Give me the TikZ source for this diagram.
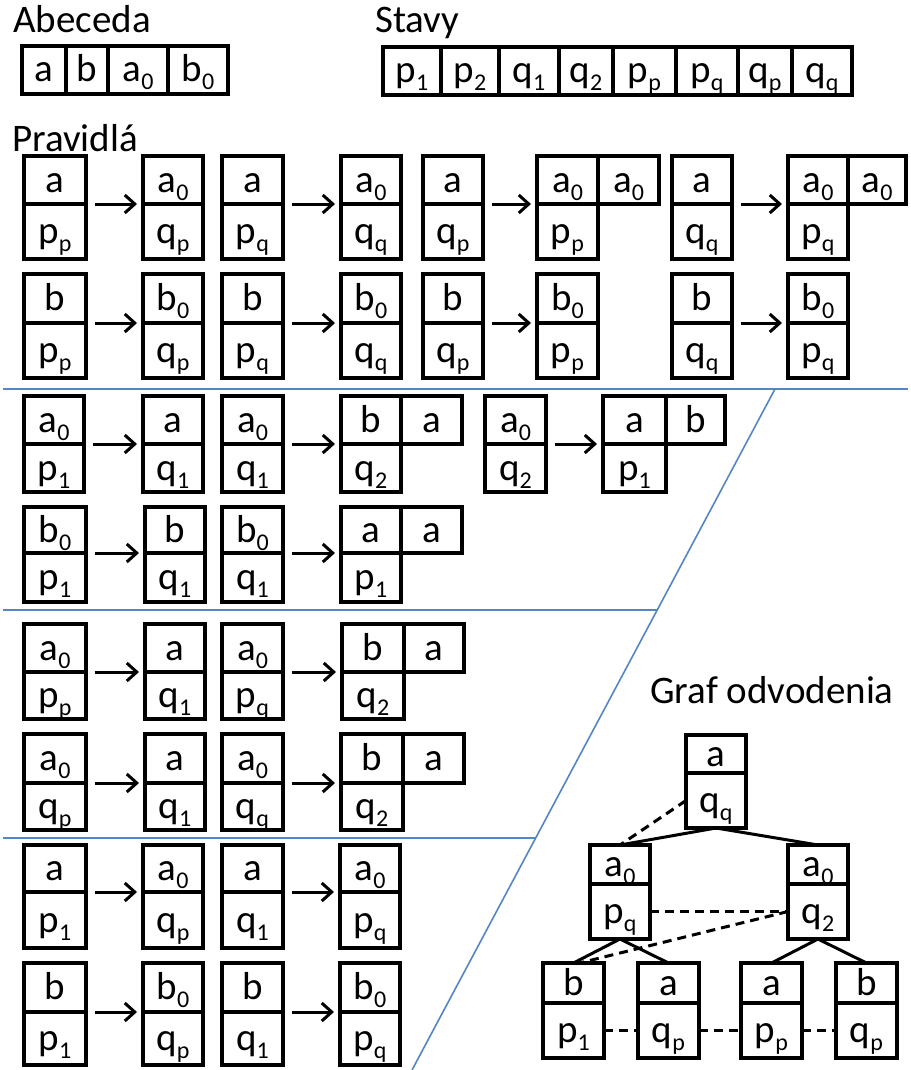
\documentclass[tikz,border=0pt]{standalone}
\usepackage{fontspec}
\setmainfont{Carlito}
\usetikzlibrary{arrows.meta,calc}
\definecolor{divblue}{RGB}{84,134,196}
\newcommand\sbs[1]{\raisebox{-8pt}{\fontsize{24}{24}\selectfont #1}}
\newcommand\cellnode[6]{%
  \pgfmathsetmacro\cellw{#4-#2}\pgfmathsetmacro\cellh{#5-#3}%
  \node[cell, minimum width=\cellw pt, minimum height=\cellh pt] (#1) at ({(#2+#4)/2},{(#3+#5)/2}) {#6};}
\newcommand\twobox[8]{%
  \cellnode{#1-t}{#2}{#4}{#3}{#5}{#7}%
  \cellnode{#1-b}{#2}{#5}{#3}{#6}{#8}}
\tikzset{
  cell/.style={draw=black, line width=3.4pt, inner sep=0pt, outer sep=0pt,
    text height=24pt, text depth=0pt, font=\fontsize{39}{39}\selectfont, anchor=center},
  rulearrow/.style={line width=3pt, -{Straight Barb[length=10pt,width=18pt]},
    shorten <=8.5pt, shorten >=6pt},
  divider/.style={draw=divblue, line width=1.6pt},
  tree/.style={line width=3pt},
  treedash/.style={line width=3pt, dash pattern=on 9pt off 6pt},
  title/.style={font=\fontsize{39}{39}\selectfont, anchor=base west, inner sep=0pt}
}
\begin{document}
\begin{tikzpicture}[x=1pt,y=-1pt]
\useasboundingbox (0,0) rectangle (910,1070);
% blue separators
\draw[divider] (3,389) -- (908,389);
\draw[divider] (775,389) -- (412,1070);
\draw[divider] (3,610) -- (657.5,610);
\draw[divider] (3,838) -- (536.3,838);
% titles
\node[title] (tAb) at (13,33) {Abeceda};
\node[title] (tSt) at (375,33) {Stavy};
\node[title] (tPr) at (12,151) {Pravidlá};
\node[title] (tGr) at (650,703) {Graf odvodenia};
% alphabet
\cellnode{ab1}{22}{46}{66}{94}{a}
\cellnode{ab2}{66}{46}{108}{94}{b}
\cellnode{ab3}{108}{46}{168}{94}{a\sbs{0}}
\cellnode{ab4}{168}{46}{228}{94}{b\sbs{0}}
% states
\cellnode{st1}{383}{47}{441}{95}{p\sbs{1}}
\cellnode{st2}{441}{47}{499}{95}{p\sbs{2}}
\cellnode{st3}{499}{47}{559}{95}{q\sbs{1}}
\cellnode{st4}{559}{47}{613}{95}{q\sbs{2}}
\cellnode{st5}{613}{47}{676}{95}{p\sbs{p}}
\cellnode{st6}{676}{47}{738}{95}{p\sbs{q}}
\cellnode{st7}{738}{47}{792}{95}{q\sbs{p}}
\cellnode{st8}{792}{47}{852}{95}{q\sbs{q}}
% section 1 row 1
\twobox{a11}{24}{86}{156}{204}{259}{a}{p\sbs{p}}
\twobox{a12}{143}{203}{156}{204}{259}{a\sbs{0}}{q\sbs{p}}
\twobox{a13}{222}{283}{156}{204}{259}{a}{p\sbs{q}}
\twobox{a14}{341}{401}{156}{204}{259}{a\sbs{0}}{q\sbs{q}}
\twobox{a15}{423}{483}{156}{204}{259}{a}{q\sbs{p}}
\twobox{a16}{537}{598}{156}{204}{259}{a\sbs{0}}{p\sbs{p}}
\cellnode{a16-r}{598}{156}{659}{204}{a\sbs{0}}
\twobox{a17}{672}{732}{156}{204}{259}{a}{q\sbs{q}}
\twobox{a18}{788}{848}{156}{204}{259}{a\sbs{0}}{p\sbs{q}}
\cellnode{a18-r}{848}{156}{906}{204}{a\sbs{0}}
% section 1 row 2
\twobox{a21}{24}{86}{274}{323}{378}{b}{p\sbs{p}}
\twobox{a22}{143}{203}{274}{323}{378}{b\sbs{0}}{q\sbs{p}}
\twobox{a23}{222}{283}{274}{323}{378}{b}{p\sbs{q}}
\twobox{a24}{341}{401}{274}{323}{378}{b\sbs{0}}{q\sbs{q}}
\twobox{a25}{423}{483}{274}{323}{378}{b}{q\sbs{p}}
\twobox{a26}{537}{598}{274}{323}{378}{b\sbs{0}}{p\sbs{p}}
\twobox{a27}{672}{732}{274}{323}{378}{b}{q\sbs{q}}
\twobox{a28}{788}{848}{274}{323}{378}{b\sbs{0}}{p\sbs{q}}
% section 2 row 1
\twobox{b11}{24}{84}{396}{444}{492}{a\sbs{0}}{p\sbs{1}}
\twobox{b12}{143}{203}{396}{444}{492}{a}{q\sbs{1}}
\twobox{b13}{222}{283}{396}{444}{492}{a\sbs{0}}{q\sbs{1}}
\twobox{b14}{341}{401}{396}{444}{492}{b}{q\sbs{2}}
\cellnode{b14-r}{401}{396}{462}{444}{a}
\twobox{b15}{485}{546}{396}{444}{492}{a\sbs{0}}{q\sbs{2}}
\twobox{b16}{603}{666}{396}{444}{492}{a}{p\sbs{1}}
\cellnode{b16-r}{666}{396}{725}{444}{b}
% section 2 row 2
\twobox{b21}{24}{86}{507}{553}{602}{b\sbs{0}}{p\sbs{1}}
\twobox{b22}{145}{205}{507}{553}{602}{b}{q\sbs{1}}
\twobox{b23}{222}{283}{507}{553}{602}{b\sbs{0}}{q\sbs{1}}
\twobox{b24}{341}{401}{507}{553}{602}{a}{p\sbs{1}}
\cellnode{b24-r}{401}{507}{462}{553}{a}
% section 3 row 1
\twobox{c11}{24}{86}{624}{672}{719}{a\sbs{0}}{p\sbs{p}}
\twobox{c12}{145}{205}{624}{672}{719}{a}{q\sbs{1}}
\twobox{c13}{222}{283}{624}{672}{719}{a\sbs{0}}{p\sbs{q}}
\twobox{c14}{342}{404}{624}{672}{719}{b}{q\sbs{2}}
\cellnode{c14-r}{404}{624}{464}{672}{a}
% section 3 row 2
\twobox{c21}{24}{86}{734}{783}{830}{a\sbs{0}}{q\sbs{p}}
\twobox{c22}{145}{205}{734}{783}{830}{a}{q\sbs{1}}
\twobox{c23}{222}{283}{734}{783}{830}{a\sbs{0}}{q\sbs{q}}
\twobox{c24}{341}{403}{734}{783}{830}{b}{q\sbs{2}}
\cellnode{c24-r}{403}{734}{464}{783}{a}
% section 4 row 1
\twobox{d11}{24}{86}{845}{892}{948}{a}{p\sbs{1}}
\twobox{d12}{143}{203}{845}{892}{948}{a\sbs{0}}{q\sbs{p}}
\twobox{d13}{222}{283}{845}{892}{948}{a}{q\sbs{1}}
\twobox{d14}{340}{400}{845}{892}{948}{a\sbs{0}}{p\sbs{q}}
% section 4 row 2
\twobox{d21}{24}{86}{963}{1012}{1065}{b}{p\sbs{1}}
\twobox{d22}{143}{203}{963}{1012}{1065}{b\sbs{0}}{q\sbs{p}}
\twobox{d23}{222}{283}{963}{1012}{1065}{b}{q\sbs{1}}
\twobox{d24}{340}{400}{963}{1012}{1065}{b\sbs{0}}{p\sbs{q}}
% rule arrows
\foreach \r in {a1,a2}{
  \draw[rulearrow] (\r1-t.south east) -- (\r2-t.south west);
  \draw[rulearrow] (\r3-t.south east) -- (\r4-t.south west);
  \draw[rulearrow] (\r5-t.south east) -- (\r6-t.south west);
  \draw[rulearrow] (\r7-t.south east) -- (\r8-t.south west);
}
\draw[rulearrow] (b15-t.south east) -- (b16-t.south west);
\foreach \r in {b1,b2,c1,c2,d1,d2}{
  \draw[rulearrow] (\r1-t.south east) -- (\r2-t.south west);
  \draw[rulearrow] (\r3-t.south east) -- (\r4-t.south west);
}
% derivation graph
\twobox{g0}{686}{746}{735}{773}{828}{a}{q\sbs{q}}
\twobox{gL}{590}{650}{845}{884}{939}{a\sbs{0}}{p\sbs{q}}
\twobox{gR}{788}{848}{845}{884}{939}{a\sbs{0}}{q\sbs{2}}
\twobox{gl1}{543}{604}{963}{1003}{1058}{b}{p\sbs{1}}
\twobox{gl2}{638}{699}{963}{1003}{1058}{a}{q\sbs{p}}
\twobox{gl3}{741}{802}{963}{1003}{1058}{a}{p\sbs{p}}
\twobox{gl4}{836}{897}{963}{1003}{1058}{b}{q\sbs{p}}
\draw[tree] (g0-b.south) -- (gL-t.north);
\draw[tree] (g0-b.south) -- (gR-t.north);
\draw[tree] (gL-b.south) -- (gl1-t.north);
\draw[tree] (gL-b.south) -- (gl2-t.north);
\draw[tree] (gR-b.south) -- (gl3-t.north);
\draw[tree] (gR-b.south) -- (gl4-t.north);
\draw[treedash] (g0-b.west) -- (gL-t.north);
\draw[treedash] (gL-b.east) -- (gR-b.west);
\draw[treedash] (gR-b.west) -- ([xshift=6pt]gl1-t.north);
\draw[treedash] (gl1-b.east) -- (gl2-b.west);
\draw[treedash] (gl2-b.east) -- (gl3-b.west);
\draw[treedash] (gl3-b.east) -- (gl4-b.west);
\end{tikzpicture}
\end{document}
